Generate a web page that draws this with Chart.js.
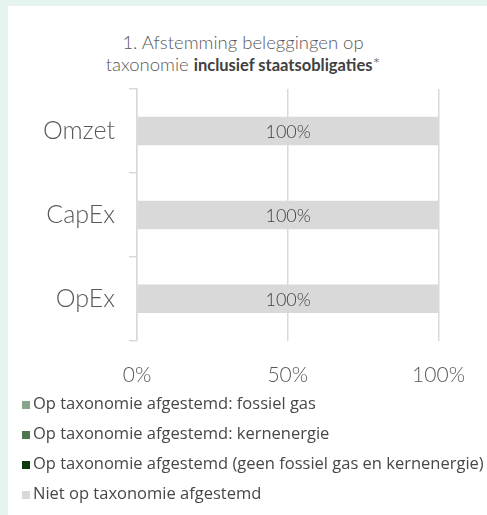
<!DOCTYPE html>
<html>
<head>
<meta charset="utf-8">
<script src="https://cdn.jsdelivr.net/npm/chart.js@4"></script>
<style>
    html, body { margin: 0; padding: 0; }
    body { width: 487px; height: 515px; background: #e6f4f0; position: relative; overflow: hidden; }
    #panel { position: absolute; left: 8px; top: 6px; width: 479px; height: 509px; background: #ffffff; }
    #title { position: absolute; left: 0; top: 25px; width: 470px; text-align: center;
        font-family: Lato, sans-serif; font-weight: 300; font-size: 18.5px; line-height: 22px; color: #595959; }
    #title b { font-family: Lato, sans-serif; font-weight: 700; font-size: 16.5px; color: #404040; }
    #chart { position: absolute; left: 0; top: 74px; }
    #legend { position: absolute; left: 14px; top: 382px; font-family: "Open Sans", sans-serif; font-size: 16.5px; color: #474747; }
    .item { height: 30px; line-height: 30px; white-space: nowrap; }
    .box { display: inline-block; width: 8px; height: 8px; margin-right: 3px; vertical-align: 0px; }
</style>
</head>
<body>
<div id="panel">
    <div id="title">1. Afstemming beleggingen op<br>taxonomie <b>inclusief staatsobligaties</b>*</div>
    <canvas id="chart" width="479" height="330"></canvas>
    <div id="legend"></div>
</div>
<script>
// Chart data
const categories = ['Omzet', 'CapEx', 'OpEx'];
const fossilGas = [0, 0, 0];
const nuclear = [0, 0, 0];
const alignedOther = [0, 0, 0];
const notAligned = [100, 100, 100];
const xTicks = [0, 50, 100];

const seriesLabels = [
    'Op taxonomie afgestemd: fossiel gas',
    'Op taxonomie afgestemd: kernenergie',
    'Op taxonomie afgestemd (geen fossiel gas en kernenergie)',
    'Niet op taxonomie afgestemd'
];
const seriesColors = ['#8aa48a', '#4f7652', '#0b3a0c', '#d9d9d9'];

// Draws "100%" in the middle of every non-empty bar
const barLabels = {
    id: 'barLabels',
    afterDatasetsDraw(chart) {
        const ctx = chart.ctx;
        ctx.save();
        ctx.font = '300 18px Lato';
        ctx.fillStyle = '#404040';
        ctx.textAlign = 'center';
        ctx.textBaseline = 'middle';
        chart.data.datasets.forEach((ds, i) => {
            const meta = chart.getDatasetMeta(i);
            meta.data.forEach((bar, j) => {
                if (!ds.data[j]) return;
                ctx.fillText(ds.data[j] + '%', (bar.x + bar.base) / 2, bar.y + 1);
            });
        });
        ctx.restore();
    }
};

const datasets = [fossilGas, nuclear, alignedOther, notAligned].map((values, i) => ({
    label: seriesLabels[i],
    data: values,
    backgroundColor: seriesColors[i],
    barPercentage: 0.34,
    categoryPercentage: 1
}));

new Chart(document.getElementById('chart'), {
    type: 'bar',
    data: { labels: categories, datasets },
    plugins: [barLabels],
    options: {
        indexAxis: 'y',
        responsive: false,
        animation: false,
        layout: { padding: { top: 9, right: 47, left: 0, bottom: 0 } },
        plugins: {
            legend: { display: false },
            tooltip: { enabled: false }
        },
        scales: {
            x: {
                stacked: true,
                min: 0,
                max: 100,
                afterBuildTicks: scale => { scale.ticks = xTicks.map(v => ({ value: v })); },
                grid: { color: '#d9d9d9', lineWidth: 1.5, drawTicks: false },
                border: { display: false },
                ticks: {
                    padding: 22,
                    color: '#595959',
                    font: { family: 'Lato', weight: '300', size: 21 },
                    callback: v => v + '%'
                }
            },
            y: {
                stacked: true,
                afterFit: scale => {
                    scale.width = 129;
                    scale.paddingTop = 0;
                    scale.paddingBottom = 0;
                },
                grid: { drawOnChartArea: false, color: '#d9d9d9', lineWidth: 1.5, tickLength: 8 },
                border: { color: '#d9d9d9', width: 1.5 },
                ticks: {
                    padding: 14,
                    color: '#595959',
                    font: { family: 'Lato', weight: '300', size: 25 }
                }
            }
        }
    }
});

// Legend, one series per row
const legend = document.getElementById('legend');
seriesLabels.forEach((label, i) => {
    const row = document.createElement('div');
    row.className = 'item';
    row.innerHTML = '<span class="box" style="background:' + seriesColors[i] + '"></span>' + label;
    legend.appendChild(row);
});
</script>
</body>
</html>
